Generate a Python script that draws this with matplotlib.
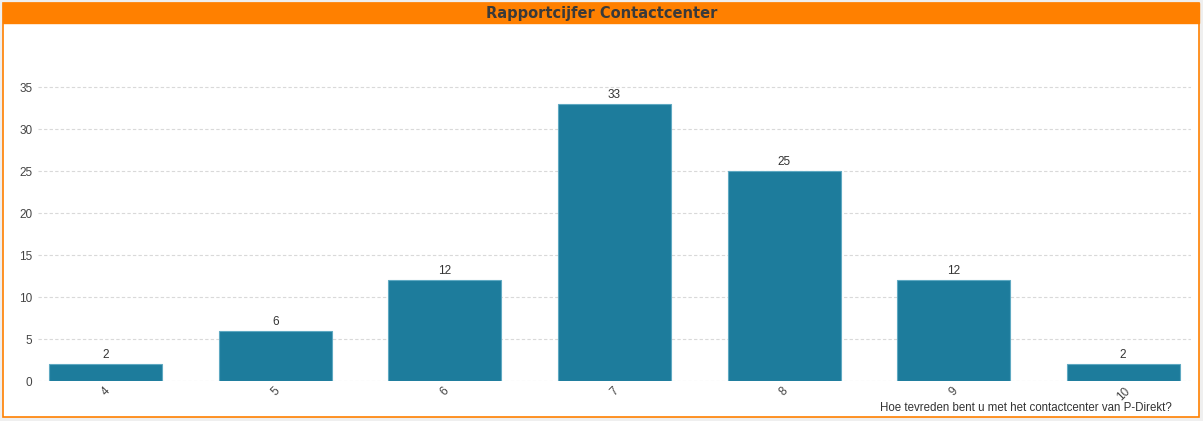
import matplotlib.pyplot as plt
from matplotlib.patches import Rectangle

# rapportcijfers en aantallen
cijfers = ['4', '5', '6', '7', '8', '9', '10']
aantallen = [2, 6, 12, 33, 25, 12, 2]
y_ticks = [0, 5, 10, 15, 20, 25, 30, 35]

plt.rcParams['font.family'] = ['Liberation Sans', 'DejaVu Sans']

W, H = 1203, 421
fig = plt.figure(figsize=(W / 100, H / 100), dpi=100, facecolor='#efefef')

# frame met oranje rand en titelbalk
fig.patches.append(Rectangle((3 / W, 4 / H), 1196 / W, 414 / H, transform=fig.transFigure,
                             facecolor='white', edgecolor='#ff8000', lw=1.2, zorder=-10))
fig.patches.append(Rectangle((3 / W, (H - 23) / H), 1196 / W, 20 / H, transform=fig.transFigure,
                             facecolor='#ff8000', edgecolor='#ff8000', lw=1, zorder=-9))
fig.text(0.5, (H - 13.5) / H, 'Rapportcijfer Contactcenter', ha='center', va='center',
         fontsize=10.5, color='#3a3a3a', fontweight='semibold', family='DejaVu Sans')

ax = fig.add_axes([38 / W, 40 / H, 1153 / W, 336 / H])
ax.set_facecolor('none')
x = list(range(len(cijfers)))
bars = ax.bar(x, aantallen, width=0.667, color='#1d7c9c', edgecolor='#5fa9c2', lw=0.8, zorder=3)
for xi, v in zip(x, aantallen):
    ax.text(xi, v + 0.35, str(v), ha='center', va='bottom', fontsize=8.5, color='#333333')

ax.set_xlim(-0.4, 6.4)
ax.set_ylim(0, 40)
ax.set_yticks(y_ticks)
ax.set_xticks(x)
ax.set_xticklabels(cijfers, rotation=45, ha='center', va='top')
ax.tick_params(axis='both', length=0, labelsize=8.5, labelcolor='#444444')
ax.tick_params(axis='x', pad=3)
ax.tick_params(axis='y', pad=4)
for s in ax.spines.values():
    s.set_visible(False)
ax.grid(axis='y', color='#d9d9d9', linestyle=(0, (3, 2)), lw=0.8, zorder=0)
ax.set_axisbelow(True)

fig.text(1172 / W, (H - 408) / H, 'Hoe tevreden bent u met het contactcenter van P-Direkt?',
         ha='right', va='center', fontsize=8.3, color='#333333')

fig.savefig('out.png', dpi=100, facecolor=fig.get_facecolor())
